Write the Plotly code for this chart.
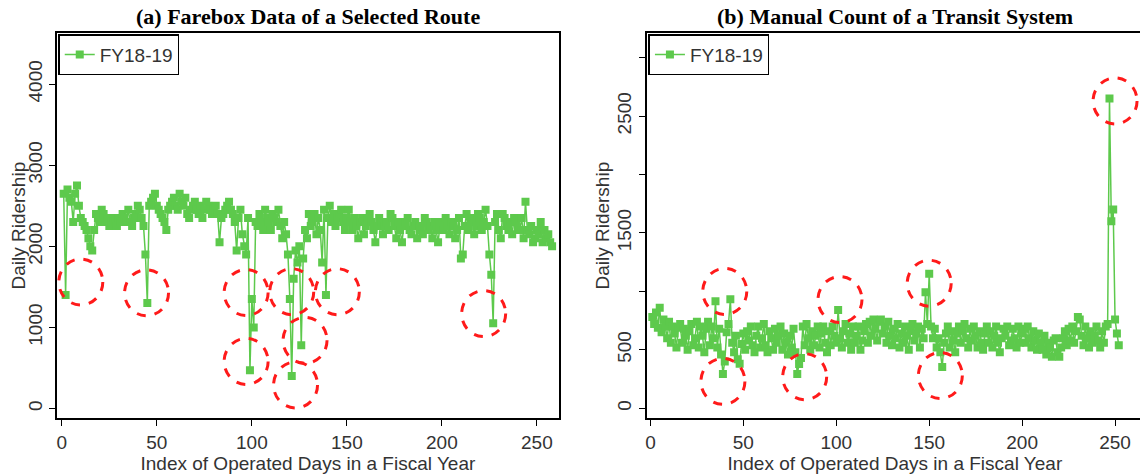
import plotly.graph_objects as go

# (a) farebox data, daily ridership per operated day
farebox = [
    2650, 1400, 2700, 2600, 2550, 2300, 2650, 2750, 2500, 2350,
    2300, 2250, 2200, 2100, 2000, 1950, 2200, 2400, 2350, 2300,
    2450, 2400, 2300, 2350, 2250, 2300, 2350, 2300, 2250, 2350,
    2300, 2400, 2350, 2300, 2450, 2300, 2250, 2350, 2400, 2500,
    2450, 2350, 2250, 1900, 1300, 2500, 2550, 2600, 2650, 2500,
    2450, 2400, 2350, 2300, 2200, 2450, 2500, 2550, 2600, 2500,
    2450, 2650, 2550, 2500, 2600, 2400, 2350, 2450, 2500, 2550,
    2450, 2400, 2500, 2350, 2450, 2550, 2500, 2450, 2400, 2450,
    2500, 2400, 2050, 2350, 2400, 2450, 2500, 2550, 2450, 2400,
    2300, 1950, 2350, 2450, 2150, 2000, 1900, 2350, 470, 1350,
    1000, 2300, 2250, 2400, 2300, 2200, 2450, 2350, 2300, 2200,
    2400, 2350, 2300, 2450, 2250, 2100, 2300, 2150, 1900, 1350,
    400, 1600, 1950, 1800, 2000, 780, 1850, 2200, 2100, 2400,
    2250, 2300, 2400, 2150, 2350, 2200, 1800, 2450, 1400, 2350,
    2500, 2300, 2400, 2250, 2350, 2400, 2450, 2300, 2200, 2350,
    2450, 2300, 2200, 2350, 2250, 2100, 2300, 2350, 2150, 2250,
    2350, 2400, 2300, 2200, 2050, 2250, 2350, 2300, 2150, 2250,
    2300, 2200, 2400, 2350, 2250, 2100, 2300, 2200, 2050, 2250,
    2300, 2350, 2200, 2150, 2250, 2300, 2100, 2250, 2200, 2150,
    2350, 2300, 2200, 2250, 2100, 2300, 2200, 2050, 2250, 2300,
    2200, 2350, 2250, 2150, 2300, 2250, 2100, 2200, 2350, 1850,
    1900, 2250, 2400, 2200, 2300, 2350, 2150, 2250, 2400, 2350,
    2200, 2300, 2450, 2250, 1900, 1650, 1050, 2300, 2400, 2200,
    2100, 2400, 2350, 2250, 2200, 2300, 2150, 2350, 2300, 2200,
    2200, 2350, 2100, 2550, 2200, 2150, 2250, 2050, 2100, 2200,
    2150, 2300, 2050, 2200, 2100, 2150, 2050, 2000,
]

# (b) manual count of the whole system
manual = [
    780, 720, 820, 690, 860, 650, 760, 700, 600, 740,
    560, 700, 640, 520, 690, 720, 560, 680, 620, 500,
    660, 720, 540, 600, 740, 520, 700, 620, 480, 680,
    740, 540, 700, 600, 916, 520, 680, 460, 294, 400,
    650, 720, 933, 560, 480, 620, 420, 380, 550, 640,
    500, 660, 580, 700, 540, 480, 620, 700, 520, 600,
    720, 540, 480, 660, 600, 500, 680, 560, 620, 700,
    500, 640, 560, 460, 620, 520, 680, 480, 294, 378,
    430, 700, 540, 720, 600, 500, 660, 540, 620, 700,
    520, 640, 700, 560, 480, 660, 540, 700, 620, 560,
    840, 600, 520, 660, 720, 560, 640, 500, 700, 560,
    620, 700, 500, 580, 660, 720, 560, 740, 620, 760,
    680, 580, 740, 760, 640, 700, 560, 740, 620, 540,
    680, 600, 720, 520, 640, 560, 700, 620, 500, 660,
    720, 580, 640, 700, 520, 680, 600, 992, 720, 1151,
    700, 600, 680, 520, 600, 480, 353, 560, 640, 700,
    520, 660, 580, 480, 640, 700, 560, 660, 720, 600,
    520, 680, 580, 700, 620, 520, 660, 560, 500, 640,
    700, 560, 660, 520, 620, 700, 560, 480, 600, 680,
    620, 700, 540, 580, 680, 600, 520, 700, 560, 640,
    680, 560, 700, 600, 520, 660, 580, 500, 640, 560,
    500, 620, 460, 560, 520, 440, 580, 600, 480, 440,
    520, 600, 660, 540, 680, 580, 700, 560, 660, 780,
    760, 620, 540, 700, 600, 520, 660, 560, 620, 700,
    580, 520, 660, 560, 700, 720, 2650, 1600, 1700, 760,
    640, 540,
]

# anomaly highlight circles (data coords)
circles_a = [(10, 1560), (44.6, 1427), (97, 1430), (97, 580), (121, 1440),
             (128, 840), (123, 290), (145, 1440), (222, 1170)]
circles_b = [(39, 230), (40, 1000), (83, 270), (102, 930), (150, 1070),
             (156, 280), (250, 2630)]

green = "#5dc94c"
fig = go.Figure()
fig.add_trace(go.Scatter(x=list(range(1, len(farebox) + 1)), y=farebox, mode="lines+markers",
                         name="FY18-19", line=dict(color=green, width=1.5),
                         marker=dict(symbol="square", size=8, color=green),
                         xaxis="x", yaxis="y", legend="legend"))
fig.add_trace(go.Scatter(x=list(range(1, len(manual) + 1)), y=manual, mode="lines+markers",
                         name="FY18-19", line=dict(color=green, width=1.5),
                         marker=dict(symbol="square", size=8, color=green),
                         xaxis="x2", yaxis="y2", legend="legend2"))

shapes = []
for xr, yr, cl in [("x", "y", circles_a), ("x2", "y2", circles_b)]:
    for cx, cy in cl:
        shapes.append(dict(type="circle", xref=xr, yref=yr, xsizemode="pixel", ysizemode="pixel",
                           xanchor=cx, yanchor=cy, x0=-22, x1=22, y0=-23, y1=23,
                           line=dict(color="#ff1a1a", width=3, dash="dash")))

axfont = dict(family="Liberation Sans, Arial", size=19, color="#333")
common = dict(showline=True, linecolor="black", linewidth=1.5, mirror=True, ticks="outside",
              ticklen=6, tickcolor="black", showgrid=False, zeroline=False, tickfont=axfont,
              title_font=axfont)
xt = [0, 50, 100, 150, 200, 250]
ydom = [0.1346, 0.947]
titlefont = dict(family="Liberation Serif, Times New Roman", size=22, color="black")

fig.update_layout(
    width=1148, height=474, margin=dict(l=0, r=0, t=0, b=0), showlegend=True,
    plot_bgcolor="white", paper_bgcolor="white", shapes=shapes,
    xaxis=dict(domain=[0.0409, 0.479], range=[-2.6, 261.6], tickvals=xt,
               title=dict(text="Index of Operated Days in a Fiscal Year", standoff=0), **common),
    yaxis=dict(domain=ydom, range=[-120, 4630], tickvals=[0, 1000, 2000, 3000, 4000],
               tickangle=-90, title=dict(text="Daily Ridership", standoff=0), **common),
    xaxis2=dict(domain=[0.5556, 0.9886], range=[-2, 265], tickvals=xt, anchor="y2",
                title=dict(text="Index of Operated Days in a Fiscal Year", standoff=0), **common),
    yaxis2=dict(domain=ydom, range=[-85, 3210], anchor="x2",
                tickvals=[0, 500, 1000, 1500, 2000, 2500, 3000],
                ticktext=["0", "500", "", "1500", "", "2500", ""],
                tickangle=-90, title=dict(text="Daily Ridership", standoff=0), **common),
    legend=dict(x=0.0421, y=0.945, xanchor="left", yanchor="top", bordercolor="black",
                borderwidth=1.5, bgcolor="white", font=axfont),
    legend2=dict(x=0.5571, y=0.945, xanchor="left", yanchor="top", bordercolor="black",
                 borderwidth=1.5, bgcolor="white", font=axfont),
    annotations=[
        dict(text="<b>(a) Farebox Data of a Selected Route</b>", x=0.26, y=0.952, xref="paper",
             yref="paper", xanchor="center", yanchor="bottom", showarrow=False, font=titlefont),
        dict(text="<b>(b) Manual Count of a Transit System</b>", x=0.772, y=0.952, xref="paper",
             yref="paper", xanchor="center", yanchor="bottom", showarrow=False, font=titlefont),
    ],
)

fig.write_html("out.html")
